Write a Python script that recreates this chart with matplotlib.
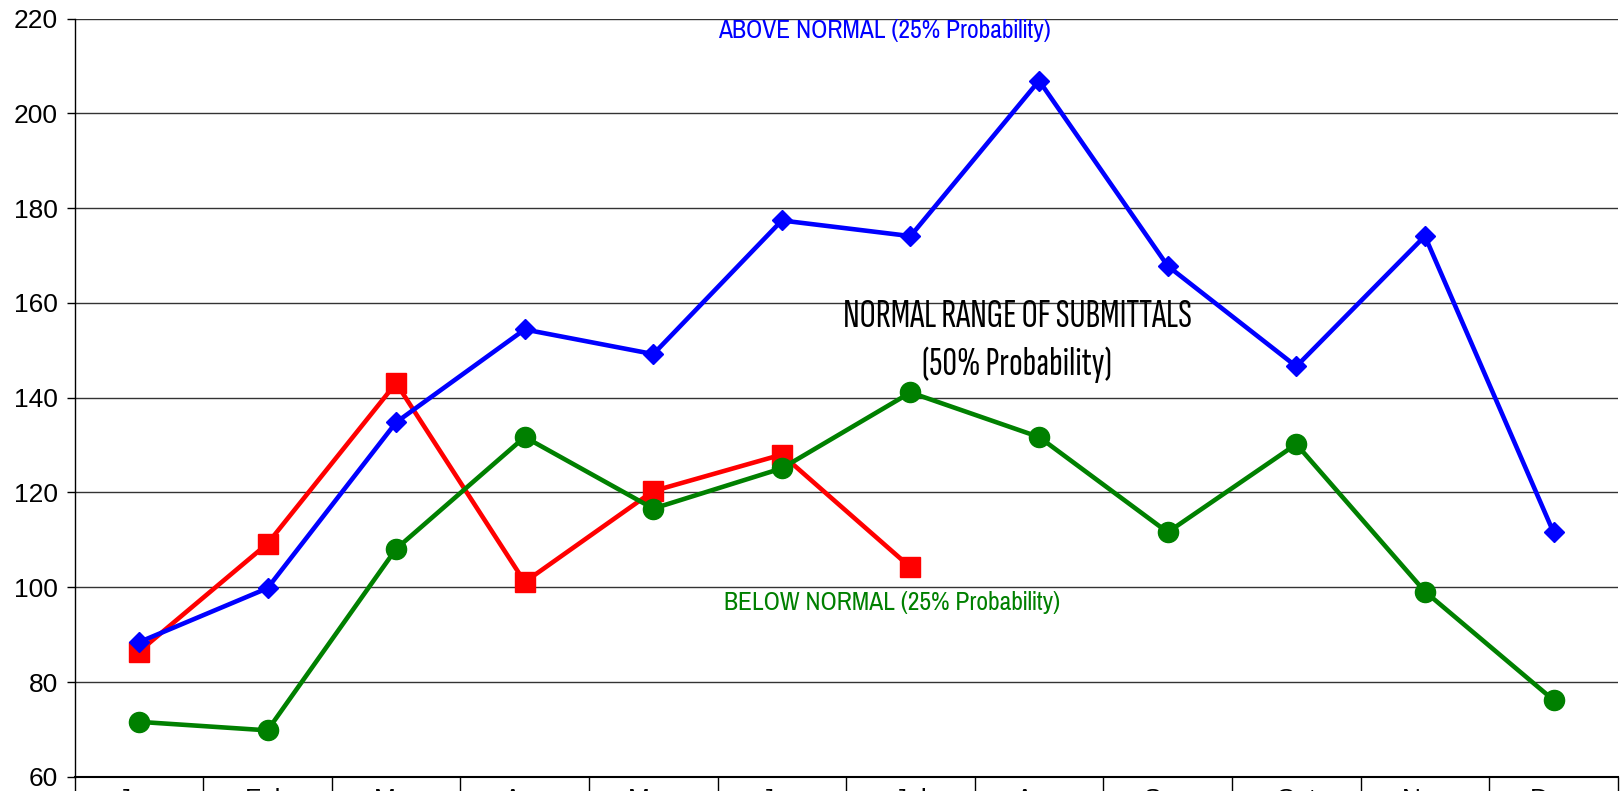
import matplotlib
matplotlib.use("Agg")
import matplotlib.pyplot as plt
import numpy as np

# ---------------------- Data ----------------------

months = ["Jan", "Feb", "Mar", "Apr", "May", "Jun",
          "Jul", "Aug", "Sep", "Oct", "Nov", "Dec"]

# upper bound of the normal range
above_normal = [88.4, 99.8, 134.8, 154.4, 149.2, 177.4,
                174.1, 206.9, 167.8, 146.6, 174.1, 111.6]

# lower bound of the normal range
below_normal = [71.6, 69.8, 108.1, 131.7, 116.6, 125.1,
                141.1, 131.7, 111.6, 130.2, 99.1, 76.2]

# submittals so far this year
actual = [86.4, 109.2, 143.1, 101.1, 120.3, 128.0, 104.2]

narrow = ["Pragati Narrow", "PT Sans Narrow", "Liberation Sans", "DejaVu Sans"]
xnarrow = ["Sofia Sans Extra Condensed", "Saira ExtraCondensed", "Liberation Sans", "DejaVu Sans"]
plt.rcParams['font.family'] = ["Liberation Sans", "DejaVu Sans"]

# ---------------------- Figure ----------------------

fig = plt.figure(figsize=(16.24, 7.91), dpi=100)
ax = fig.add_axes([74.6 / 1624, 14.2 / 791,
                   (1617.8 - 74.6) / 1624, (776.8 - 18.6) / 791])

x = np.arange(len(months))

ax.plot(np.arange(len(actual)), actual, color="#FF0000", lw=3.3,
        marker="s", markersize=15, zorder=3)
ax.plot(x, below_normal, color="#008000", lw=3.3,
        marker="o", markersize=14.5, zorder=4)
ax.plot(x, above_normal, color="#0000FF", lw=3.3,
        marker="D", markersize=10, zorder=5)

ax.set_xlim(-0.5, len(months) - 0.5)
ax.set_ylim(60, 220)
ax.set_yticks(range(60, 221, 20))

# category labels centered, tick marks between categories
ax.set_xticks(x)
ax.set_xticklabels(months, fontsize=19)
ax.set_xticks(np.arange(-0.5, len(months), 1), minor=True)
ax.tick_params(axis="x", which="major", length=0, pad=8)
ax.tick_params(axis="x", which="minor", length=12, width=1, color="black")
ax.tick_params(axis="y", length=6, width=1, pad=6, labelsize=19)

ax.grid(axis="y", color="#333333", lw=1)
ax.set_axisbelow(True)
for side in ["top", "right"]:
    ax.spines[side].set_visible(False)
ax.spines["left"].set_linewidth(1)
ax.spines["bottom"].set_linewidth(1.5)

# ---------------------- Annotations ----------------------

ax.text(5.80, 217.4, "ABOVE NORMAL (25% Probability)", color="#0000FF",
        ha="center", va="center", fontsize=20, family=narrow)
ax.text(5.86, 96.7, "BELOW NORMAL (25% Probability)", color="#008000",
        ha="center", va="center", fontsize=20, family=narrow)
ax.text(6.83, 152, "NORMAL RANGE OF SUBMITTALS\n(50% Probability)",
        color="black", ha="center", va="center", fontsize=29,
        family=xnarrow, weight="bold", linespacing=1.4)

fig.savefig("out.png", dpi=100)
